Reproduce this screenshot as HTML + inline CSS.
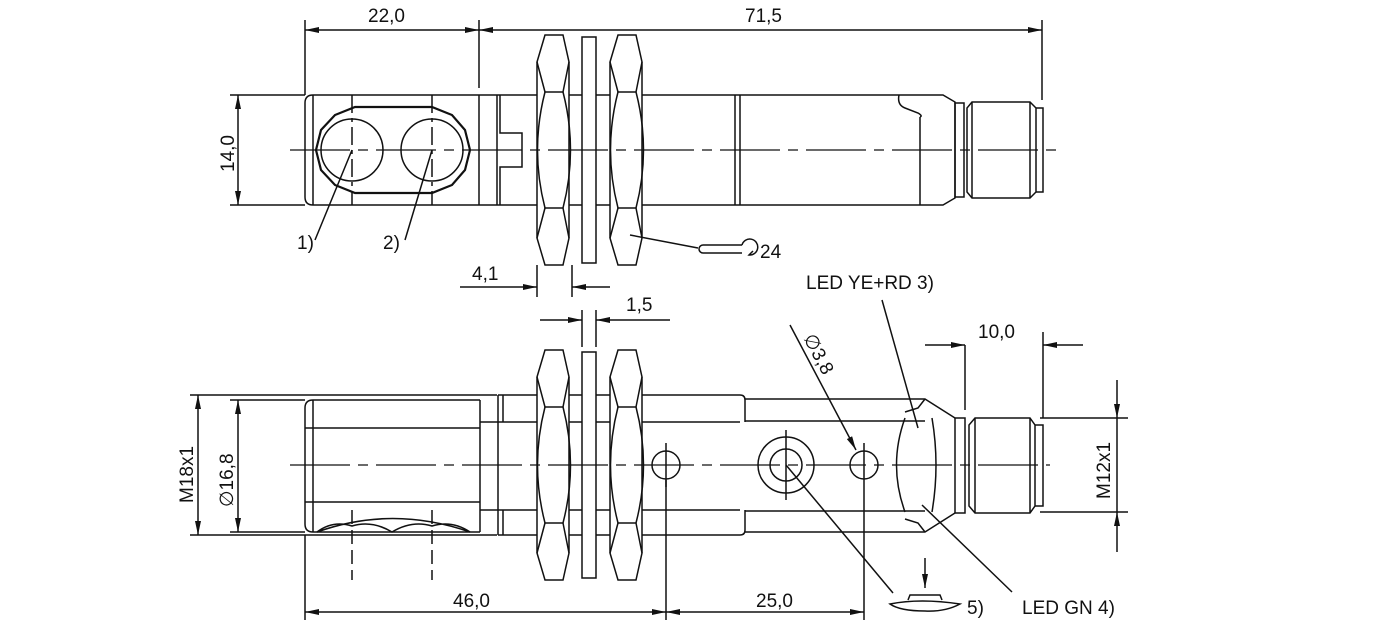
<!DOCTYPE html>
<html><head><meta charset="utf-8"><style>
html,body{margin:0;padding:0;background:#fff;}
svg{display:block;}
text{font-family:"Liberation Sans",sans-serif;font-size:19px;fill:#111;}
</style></head><body>
<svg width="1380" height="631" viewBox="0 0 1380 631" xmlns="http://www.w3.org/2000/svg">
<defs>
<marker id="a" markerWidth="14" markerHeight="6" refX="14" refY="3" orient="auto" markerUnits="userSpaceOnUse"><path d="M0,0 L14,3 L0,6 Z" fill="#111"/></marker>
<g id="nut" fill="#fff" stroke="#111" stroke-width="1.5">
<path d="M545,-115 L563,-115 L569,-88 L569,88 L563,115 L545,115 L537,88 L537,-88 Z"/>
<path d="M545,-58 L563,-58 M545,58 L563,58" fill="none"/>
<path d="M545,-58 Q530,0 545,58 M563,-58 Q578,0 563,58" fill="none"/>
<path d="M537,-88 L545,-58 M569,-88 L563,-58 M537,88 L545,58 M569,88 L563,58" fill="none"/>
</g>
</defs>
<g stroke="#111" stroke-width="1.5" fill="none">
<path d="M313,95 L740,95 M313,205 L740,205"/>
<path d="M313,95 Q305,95 305,103 L305,197 Q305,205 313,205 M313,95 L313,205"/>
<path d="M479,95 L479,205 M497,95 L497,205 M500,95 L500,133 L522,133 L522,167 L500,167 L500,205"/>
<path d="M355,107 L432,107 L452,115 L465,130 L470,150 L465,170 L452,185 L432,193 L355,193 L335,185 L321,170 L316,150 L321,130 L335,115 Z" stroke-width="2.2"/>
<circle cx="352" cy="150" r="31"/><circle cx="432" cy="150" r="31"/>
<path d="M352,95 L352,205 M432,95 L432,205" stroke-dasharray="18,5,4,5"/>
<path d="M735,95 L735,205 M740,95 L740,205 M740,95 L943,95 L955,102 L955,198 L943,205 L740,205"/>
<path d="M920,117 L920,205 M899,95 Q897,105 905,108 L918,113 Q923,116 920,117"/>
<rect x="955" y="103" width="9" height="94"/>
<path d="M972,102 L1030,102 L1036,108 L1036,192 L1030,198 L972,198 L967,192 L967,108 Z"/>
<path d="M972,102 L972,198 M1030,102 L1030,198 M1036,108 L1043,108 L1043,192 L1036,192"/>
<rect x="582" y="37" width="14" height="226" fill="#fff"/>
<use href="#nut" transform="translate(0,150)"/>
<use href="#nut" transform="translate(73,150)"/>
<path d="M290,150 L1060,150" stroke-width="1.2" stroke-dasharray="60,8,10,8"/>
<path d="M305,20 L305,95 M479,20 L479,88 M1042,20 L1042,100"/>
<path d="M392,30 L305,30" marker-end="url(#a)"/><path d="M392,30 L479,30" marker-end="url(#a)"/>
<path d="M760,30 L479,30" marker-end="url(#a)"/><path d="M760,30 L1042,30" marker-end="url(#a)"/>
<path d="M230,95 L305,95 M230,205 L305,205"/>
<path d="M238,150 L238,95" marker-end="url(#a)"/><path d="M238,150 L238,205" marker-end="url(#a)"/>
<path d="M352,150 L315,240 M432,150 L405,240"/>
<path d="M630,235 L698,248"/>
<path d="M703,245 L742,245 M703,253 L742,253 M703,245 A4,4 0 0 0 703,253 M742,245 A8,8 0 1 1 749,255 L753,251"/>
<path d="M537,265 L537,297 M572,265 L572,297"/>
<path d="M460,287 L537,287" marker-end="url(#a)"/><path d="M610,287 L572,287" marker-end="url(#a)"/>
<path d="M582,310 L582,347 M596,310 L596,347"/>
<path d="M540,320 L582,320" marker-end="url(#a)"/><path d="M670,320 L596,320" marker-end="url(#a)"/>
<path d="M190,395 L497,395 M190,535 L497,535"/>
<path d="M313,400 L480,400 M313,532 L480,532 M313,400 Q305,400 305,408 L305,524 Q305,532 313,532 M313,400 L313,532 M305,428 L480,428 M305,502 L480,502 M480,400 L480,532"/>
<path d="M317,532 Q392,505 470,532 M317,532 Q333,520 352,526 Q372,520 392,532 Q412,520 432,526 Q452,520 470,532" stroke-width="1.6"/>
<path d="M352,510 L352,580 M432,510 L432,580" stroke-dasharray="14,6"/>
<path d="M480,422 L740,422 M480,510 L740,510 M498,395 L740,395 M498,535 L740,535 M498,395 L498,535 M503,395 L503,422 M503,510 L503,535"/>
<path d="M740,395 Q745,395 745,400 L745,422 M740,535 Q745,535 745,530 L745,510"/>
<path d="M745,399 L925,399 L955,418 M745,532 L925,532 L955,513 M745,421 L925,421 M745,511 L925,511"/>
<path d="M925,399 L918,408 L905,412 M925,532 L918,523 L905,519"/>
<path d="M905,418 Q888,465 905,512 M932,418 Q940,465 932,512"/>
<rect x="955" y="418" width="10" height="95"/>
<path d="M975,418 L1030,418 L1035,425 L1035,506 L1030,513 L975,513 L969,506 L969,425 Z M975,418 L975,513 M1030,418 L1030,513 M1035,425 L1043,425 L1043,506 L1035,506"/>
<rect x="582" y="352" width="14" height="226" fill="#fff"/>
<use href="#nut" transform="translate(0,465)"/>
<use href="#nut" transform="translate(73,465)"/>
<circle cx="666" cy="465" r="14"/><circle cx="864" cy="465" r="14"/>
<circle cx="786" cy="465" r="28"/><circle cx="786" cy="465" r="16"/>
<path d="M786,430 L786,500 M666,443 L666,487"/>
<path d="M290,465 L1050,465" stroke-width="1.2" stroke-dasharray="60,8,10,8"/>
<path d="M198,465 L198,395" marker-end="url(#a)"/><path d="M198,465 L198,535" marker-end="url(#a)"/>
<path d="M238,465 L238,400" marker-end="url(#a)"/><path d="M238,465 L238,532" marker-end="url(#a)"/>
<path d="M230,400 L305,400 M230,532 L305,532"/>
<path d="M305,535 L305,620 M666,480 L666,620 M864,480 L864,620"/>
<path d="M485,612 L305,612" marker-end="url(#a)"/><path d="M485,612 L666,612" marker-end="url(#a)"/>
<path d="M765,612 L666,612" marker-end="url(#a)"/><path d="M765,612 L864,612" marker-end="url(#a)"/>
<path d="M864,443 L864,480"/>
<path d="M790,325 L856,450" marker-end="url(#a)"/>
<path d="M882,300 L918,428"/>
<path d="M922,505 L1012,592"/>
<path d="M786,465 L893,593"/>
<path d="M925,558 L925,588" marker-end="url(#a)"/>
<path d="M890,604 Q920,598 960,604 Q945,612 925,611 Q900,611 890,604 Z M908,600 L910,595 L940,595 L942,600"/>
<path d="M965,345 L965,410 M1043,332 L1043,418"/>
<path d="M925,345 L965,345" marker-end="url(#a)"/><path d="M1083,345 L1043,345" marker-end="url(#a)"/>
<path d="M1040,418 L1128,418 M1040,512 L1128,512"/>
<path d="M1117,380 L1117,418" marker-end="url(#a)"/><path d="M1117,552 L1117,512" marker-end="url(#a)"/>
<path d="M1117,418 L1117,512"/>
</g>
<text x="368" y="22">22,0</text>
<text x="745" y="22">71,5</text>
<text transform="translate(234,172) rotate(-90)">14,0</text>
<text x="297" y="249">1)</text>
<text x="383" y="249">2)</text>
<text x="760" y="258">24</text>
<text x="472" y="280">4,1</text>
<text x="626" y="311">1,5</text>
<text x="806" y="289">LED YE+RD 3)</text>
<text x="978" y="338">10,0</text>
<text transform="translate(803,338) rotate(62)">∅3,8</text>
<text transform="translate(193,503) rotate(-90)">M18x1</text>
<text transform="translate(233,507) rotate(-90)">∅16,8</text>
<text transform="translate(1110,499) rotate(-90)">M12x1</text>
<text x="453" y="607">46,0</text>
<text x="756" y="607">25,0</text>
<text x="967" y="614">5)</text>
<text x="1022" y="614">LED GN 4)</text>
</svg>
</body></html>
